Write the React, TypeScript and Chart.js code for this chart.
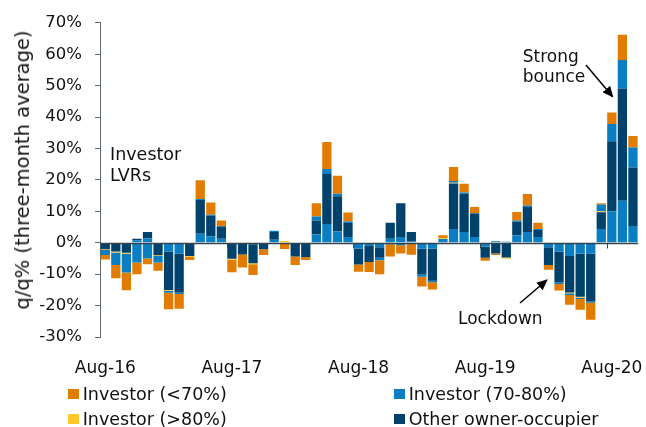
import React, { useEffect, useRef } from 'react';
import { Chart, registerables } from 'chart.js';

Chart.register(...registerables);

// ---- DATA ----
const months = [
  'Aug-16', 'Sep-16', 'Oct-16', 'Nov-16', 'Dec-16',
  'Jan-17', 'Feb-17', 'Mar-17', 'Apr-17', 'May-17', 'Jun-17', 'Jul-17', 'Aug-17', 'Sep-17', 'Oct-17', 'Nov-17', 'Dec-17',
  'Jan-18', 'Feb-18', 'Mar-18', 'Apr-18', 'May-18', 'Jun-18', 'Jul-18', 'Aug-18', 'Sep-18', 'Oct-18', 'Nov-18', 'Dec-18',
  'Jan-19', 'Feb-19', 'Mar-19', 'Apr-19', 'May-19', 'Jun-19', 'Jul-19', 'Aug-19', 'Sep-19', 'Oct-19', 'Nov-19', 'Dec-19',
  'Jan-20', 'Feb-20', 'Mar-20', 'Apr-20', 'May-20', 'Jun-20', 'Jul-20', 'Aug-20', 'Sep-20', 'Oct-20',
];

const shownTickLabels = ['Aug-16', 'Aug-17', 'Aug-18', 'Aug-19', 'Aug-20'];

// Investor (70-80%) – segment nearest the zero line
const investor7080 = [
  0, 0, 0, 0.8, 1.4, 0, -2.8, -3.4, 0, 2.9, 2.1, 1.3, 0, 0, -0.5, 0, 1.0,
  0, 0, 0, 2.6, 6.0, 3.7, 1.8, -1.8, -1.0, -1.4, 1.3, 1.8, 0.5, -1.9, -1.9,
  1.2, 4.4, 3.4, 1.8, -1.3, 0.5, 0.3, 2.3, 3.4, 1.8, -1.4, -2.8, -4.2, -3.5,
  -3.5, 4.4, 10.0, 13.4, 5.3,
];

// Other owner-occupier
const otherOwnerOccupier = [
  -2.1, -2.8, -3.2, 0.5, 2.0, -4.0, -12.2, -12.4, -4.2, 10.7, 6.5, 3.8, -5.1, -3.7, -6.0, -2.1, 2.4,
  0, -4.4, -4.5, 4.5, 15.9, 11.1, 4.5, -5.1, -5.1, -3.4, 5.1, 10.8, 2.9, -8.1, -10.2,
  0, 14.5, 12.2, 7.5, -3.5, -3.4, -4.7, 4.5, 8.0, 2.3, -5.7, -9.8, -11.6, -13.7,
  -15.2, 5.3, 22.3, 35.6, 18.7,
];

// Investor (>80%)
const investorAbove80 = [
  -0.2, -0.3, -0.3, 0, 0, -0.2, -0.3, 0, -0.3, 0, 0, 0, -0.3, 0, -0.3, 0, -0.3,
  0.6, 0, 0, 0, 0, 0, 0, 0, 0, 0, 0, 0, 0, 0, 0,
  0.2, 0.2, 0, 0, 0, 0, -0.4, 0, 0, 0, 0, 0, -0.3, -0.3,
  0, 0.3, 0, 0, 0,
];

// Investor (70-80%) – outer segment
const investor7080Outer = [
  -1.6, -4.0, -6.0, -6.3, -4.9, -2.1, -0.6, -0.5, 0, 0.3, 0.3, 0.2, 0, 0, 0, 0, 0.4,
  0, 0, 0, 1.3, 1.6, 0.8, 0.5, 0, 0, -0.8, -0.5, -0.8, -0.3, -0.8, -0.5,
  0, 0.6, 0.4, 0.2, 0, 0, 0, 0.3, 0.5, 0.3, 0, -0.5, -0.5, -0.4,
  -0.4, 2.2, 5.5, 9.2, 6.3,
];

// Investor (<70%)
const investorBelow70 = [
  -1.4, -4.2, -5.6, -3.7, -1.9, -2.6, -5.3, -4.7, -1.0, 6.0, 3.9, 1.8, -4.0, -4.2, -3.5, -1.8, 0,
  -2.0, -2.7, -1.0, 4.2, 8.6, 5.7, 2.8, -2.3, -3.2, -4.4, -3.9, -2.6, -3.5, -3.1, -2.3,
  1.0, 4.4, 2.8, 1.9, -0.9, -0.5, 0, 2.7, 3.6, 2.0, -1.5, -2.1, -3.1, -3.4,
  -5.4, 0.4, 3.7, 8.0, 3.7,
];

const COLORS = {
  orange: '#E27C00',
  lightBlue: '#0A7EC2',
  yellow: '#FFC72C',
  dark: '#00426B',
};

const FONT = 'DejaVu Sans';

export default function App() {
  const canvasRef = useRef<HTMLCanvasElement>(null);

  useEffect(() => {
    if (!canvasRef.current) return;

    const zeroLinePlugin = {
      id: 'zeroLine',
      afterDatasetsDraw(chart: any) {
        const { ctx, chartArea, scales } = chart;
        const xs = scales.x;
        const y0 = Math.round(scales.y.getPixelForValue(0)) + 0.5;
        ctx.save();
        ctx.strokeStyle = '#33444f';
        ctx.lineWidth = 1.5;
        ctx.beginPath();
        ctx.moveTo(chartArea.left, y0);
        ctx.lineTo(chartArea.right, y0);
        ctx.stroke();
        const step = xs.getPixelForValue(1) - xs.getPixelForValue(0);
        ctx.lineWidth = 1;
        ctx.beginPath();
        months.forEach((m, i) => {
          if (!shownTickLabels.includes(m) || i === 0) return;
          const x = Math.round(xs.getPixelForValue(i) - step / 2) + 0.5;
          ctx.moveTo(x, y0);
          ctx.lineTo(x, y0 + 5);
        });
        ctx.stroke();
        ctx.restore();
      },
    };

    const common = { stack: 's', barPercentage: 0.88, categoryPercentage: 1, borderWidth: 0 };

    const chart = new Chart(canvasRef.current, {
      type: 'bar',
      data: {
        labels: months,
        datasets: [
          { ...common, label: 'Investor (70-80%)', data: investor7080, backgroundColor: COLORS.lightBlue },
          { ...common, label: 'Other owner-occupier', data: otherOwnerOccupier, backgroundColor: COLORS.dark },
          { ...common, label: 'Investor (>80%)', data: investorAbove80, backgroundColor: COLORS.yellow },
          { ...common, label: 'Investor (70-80%) outer', data: investor7080Outer, backgroundColor: COLORS.lightBlue },
          { ...common, label: 'Investor (<70%)', data: investorBelow70, backgroundColor: COLORS.orange },
        ],
      },
      options: {
        animation: false,
        responsive: true,
        maintainAspectRatio: false,
        layout: { padding: { top: 20, right: 7, left: 0, bottom: 0 } },
        plugins: {
          legend: { display: false },
          tooltip: { enabled: false },
        },
        scales: {
          x: {
            stacked: true,
            offset: true,
            grid: { display: false },
            border: { display: false },
            ticks: {
              autoSkip: false,
              maxRotation: 0,
              minRotation: 0,
              padding: 13,
              color: '#111',
              font: { family: FONT, size: 17 },
              callback: (_v: any, i: number) => (shownTickLabels.includes(months[i]) ? months[i] : ''),
            },
            afterFit: (s: any) => {
              s.height = 43;
            },
          },
          y: {
            stacked: true,
            min: -30,
            max: 70,
            grid: { drawOnChartArea: false, drawTicks: true, tickLength: 5, color: '#5d6870' },
            border: { display: true, color: '#5d6870', width: 1 },
            ticks: {
              stepSize: 10,
              padding: 13,
              color: '#111',
              font: { family: FONT, size: 16.5 },
              callback: (v: any) => `${v}%`,
            },
            afterFit: (s: any) => {
              s.width = 100;
            },
          },
        },
      },
      plugins: [zeroLinePlugin],
    });

    return () => chart.destroy();
  }, []);

  const text: React.CSSProperties = {
    position: 'absolute',
    fontFamily: FONT,
    fontSize: 17,
    lineHeight: '21px',
    color: '#111',
    whiteSpace: 'nowrap',
  };

  const legendItems = [
    { label: 'Investor (<70%)', color: COLORS.orange, x: 68, y: 389 },
    { label: 'Investor (70-80%)', color: COLORS.lightBlue, x: 394, y: 389 },
    { label: 'Investor (>80%)', color: COLORS.yellow, x: 68, y: 414 },
    { label: 'Other owner-occupier', color: COLORS.dark, x: 394, y: 414 },
  ];

  return (
    <div
      style={{
        position: 'fixed',
        left: 0,
        top: 0,
        width: 646,
        height: 427,
        background: '#fff',
        overflow: 'hidden',
      }}
    >
      <div style={{ position: 'absolute', left: 0, top: 0, width: 646, height: 380 }}>
        <canvas ref={canvasRef} />
      </div>

      {/* y-axis title */}
      <div
        style={{
          position: 'absolute',
          left: 23,
          top: 170,
          fontFamily: FONT,
          fontSize: 19.5,
          lineHeight: '20px',
          color: '#111',
          whiteSpace: 'nowrap',
          transform: 'translate(-50%, -50%) rotate(-90deg)',
        }}
      >
        q/q% (three-month average)
      </div>

      <div style={{ ...text, left: 110, top: 143.6, fontSize: 17.5 }}>
        Investor
        <br />
        LVRs
      </div>
      <div style={{ ...text, left: 522.7, top: 45.8, lineHeight: '20px' }}>
        Strong
        <br />
        bounce
      </div>
      <div style={{ ...text, left: 458, top: 307.6 }}>Lockdown</div>

      <svg width={646} height={427} style={{ position: 'absolute', left: 0, top: 0, pointerEvents: 'none' }}>
        <defs>
          <marker id="ah" markerWidth="11" markerHeight="10" refX="10" refY="5" orient="auto" markerUnits="userSpaceOnUse">
            <path d="M0,0 L11,5 L0,10 z" fill="#000" />
          </marker>
        </defs>
        <line x1={586} y1={65} x2={612.7} y2={96.7} stroke="#000" strokeWidth={1.5} markerEnd="url(#ah)" />
        <line x1={520} y1={303} x2={547} y2={280} stroke="#000" strokeWidth={1.5} markerEnd="url(#ah)" />
      </svg>

      {legendItems.map((it) => (
        <React.Fragment key={it.label}>
          <div
            style={{
              position: 'absolute',
              left: it.x,
              top: it.y,
              width: 11,
              height: 10,
              background: it.color,
            }}
          />
          <div style={{ ...text, fontSize: 17.5, left: it.x + 14.7, top: it.y - 4.6 }}>{it.label}</div>
        </React.Fragment>
      ))}
    </div>
  );
}
